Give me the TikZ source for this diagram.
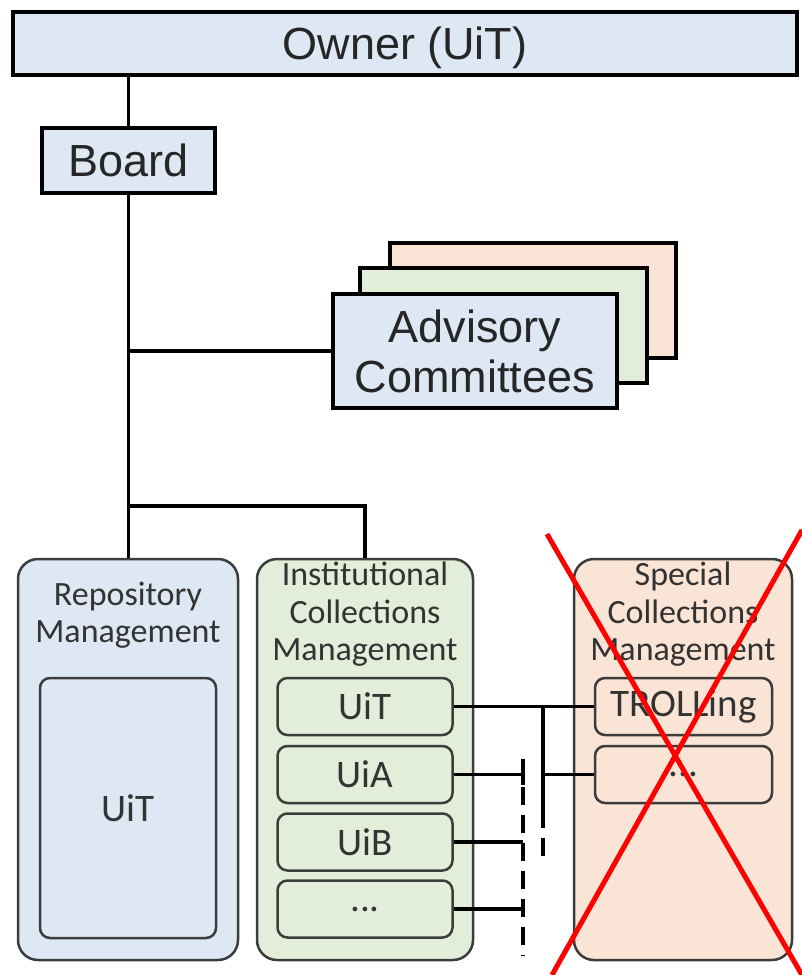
\documentclass[tikz,border=0pt]{standalone}
\usepackage{fontspec}
\setmainfont{Liberation Sans}
\newfontfamily\calfont{Carlito}
\definecolor{boxblue}{HTML}{DDE8F4}
\definecolor{boxgreen}{HTML}{E2EED9}
\definecolor{boxpeach}{HTML}{FAE4D6}
\definecolor{edgegray}{HTML}{3C3C3C}
\begin{document}
\begin{tikzpicture}[x=1pt,y=-1pt,
	topbox/.style={draw=black,line width=4pt,inner sep=0pt,align=center,
		font=\fontsize{45}{50}\selectfont,text=black!85},
	unitbox/.style={draw=edgegray,line width=2.5pt,rounded corners=20pt,inner sep=0pt,
		minimum width=#1,minimum height=401pt},
	subbox/.style={draw=edgegray,line width=2.5pt,rounded corners=10pt,inner sep=0pt,
		minimum width=175pt,minimum height=57pt,font=\calfont\fontsize{39}{40}\selectfont,text=black!80},
	title/.style={align=center,inner sep=0pt,font=\calfont\fontsize{34}{37.5}\selectfont,text=black!80},
	link/.style={line width=3.5pt,black},
	fade/.style={link,dash pattern=on 18pt off 10pt}]
\useasboundingbox (0,0) rectangle (802,975);
% top of the chart
\node (owner) [topbox,fill=boxblue,minimum width=784pt,minimum height=63pt,text depth=0pt] at (405,43.5) {Owner (UiT)};
\node (board) [topbox,fill=boxblue,minimum width=173pt,minimum height=65pt] at (128.5,160.5) {Board};
\node (adv3) [topbox,fill=boxpeach,minimum width=286pt,minimum height=115pt] at (533,300.5) {};
\node (adv2) [topbox,fill=boxgreen,minimum width=287pt,minimum height=115pt] at (503.5,325.5) {};
\node (adv1) [topbox,fill=boxblue,minimum width=284pt,minimum height=114pt] at (475,351) {Advisory\\Committees};
% management units
\node (repo) [unitbox=220pt,fill=boxblue] at (128,759.5) {};
\node (inst) [unitbox=216pt,fill=boxgreen] at (365,759.5) {};
\node (spec) [unitbox=218pt,fill=boxpeach] at (683,759.5) {};
\node (repotitle) [title] at (128,615) {Repository\\Management};
\node (insttitle) [title] at (365,614.5) {Institutional\\Collections\\Management};
\node (spectitle) [title] at (683,614.5) {Special\\Collections\\Management};
\node (repouit) [subbox,minimum width=176pt,minimum height=260pt] at (128,808) {UiT};
\node (iuit) [subbox,fill=boxgreen] at (365,706.5) {UiT};
\node (iuia) [subbox,fill=boxgreen] at (365,774.5) {UiA};
\node (iuib) [subbox,fill=boxgreen] at (365,842) {UiB};
\node (idots) [subbox,fill=boxgreen] at (365,909) {...};
\node (troll) [subbox,fill=boxpeach,minimum width=177pt] at (683.5,706.5) {TROLLing};
\node (sdots) [subbox,fill=boxpeach,minimum width=177pt] at (683.5,774.5) {...};
% connectors
\draw [link] (board.north) -- (board.north |- owner.south);
\draw [link] (board.south) -- (board.south |- repo.north);
\draw [link] (board.south |- adv1.west) -- (adv1.west);
\draw [link] (board.south |- 0,506) -| (inst.north);
\draw [link] (iuit.east) -- (troll.west);
\coordinate (colA) at (543,706);
\coordinate (colAend) at (543,810);
\draw [link] (colA) -- (colAend);
\draw [fade] (colAend) -- ++(0,47);
\draw [link] (colA |- sdots.west) -- (sdots.west);
\draw [link] (iuia.east) -- ++(69,0) coordinate (colB);
\draw [link] (colB) -- ++(0,10);
\draw [fade] ([yshift=16pt]colB) -- (colB |- 0,955);
\draw [link] (iuib.east) -- (iuib.east -| colB);
\draw [link] (idots.east) -- (idots.east -| colB);
% crossed out
\coordinate (xa) at (547,534);
\coordinate (xb) at (802,975);
\coordinate (xc) at (802,530);
\coordinate (xd) at (552,975);
\draw [red,line width=5pt] (xa) -- (xb);
\draw [red,line width=5pt] (xc) -- (xd);
\end{tikzpicture}
\end{document}
